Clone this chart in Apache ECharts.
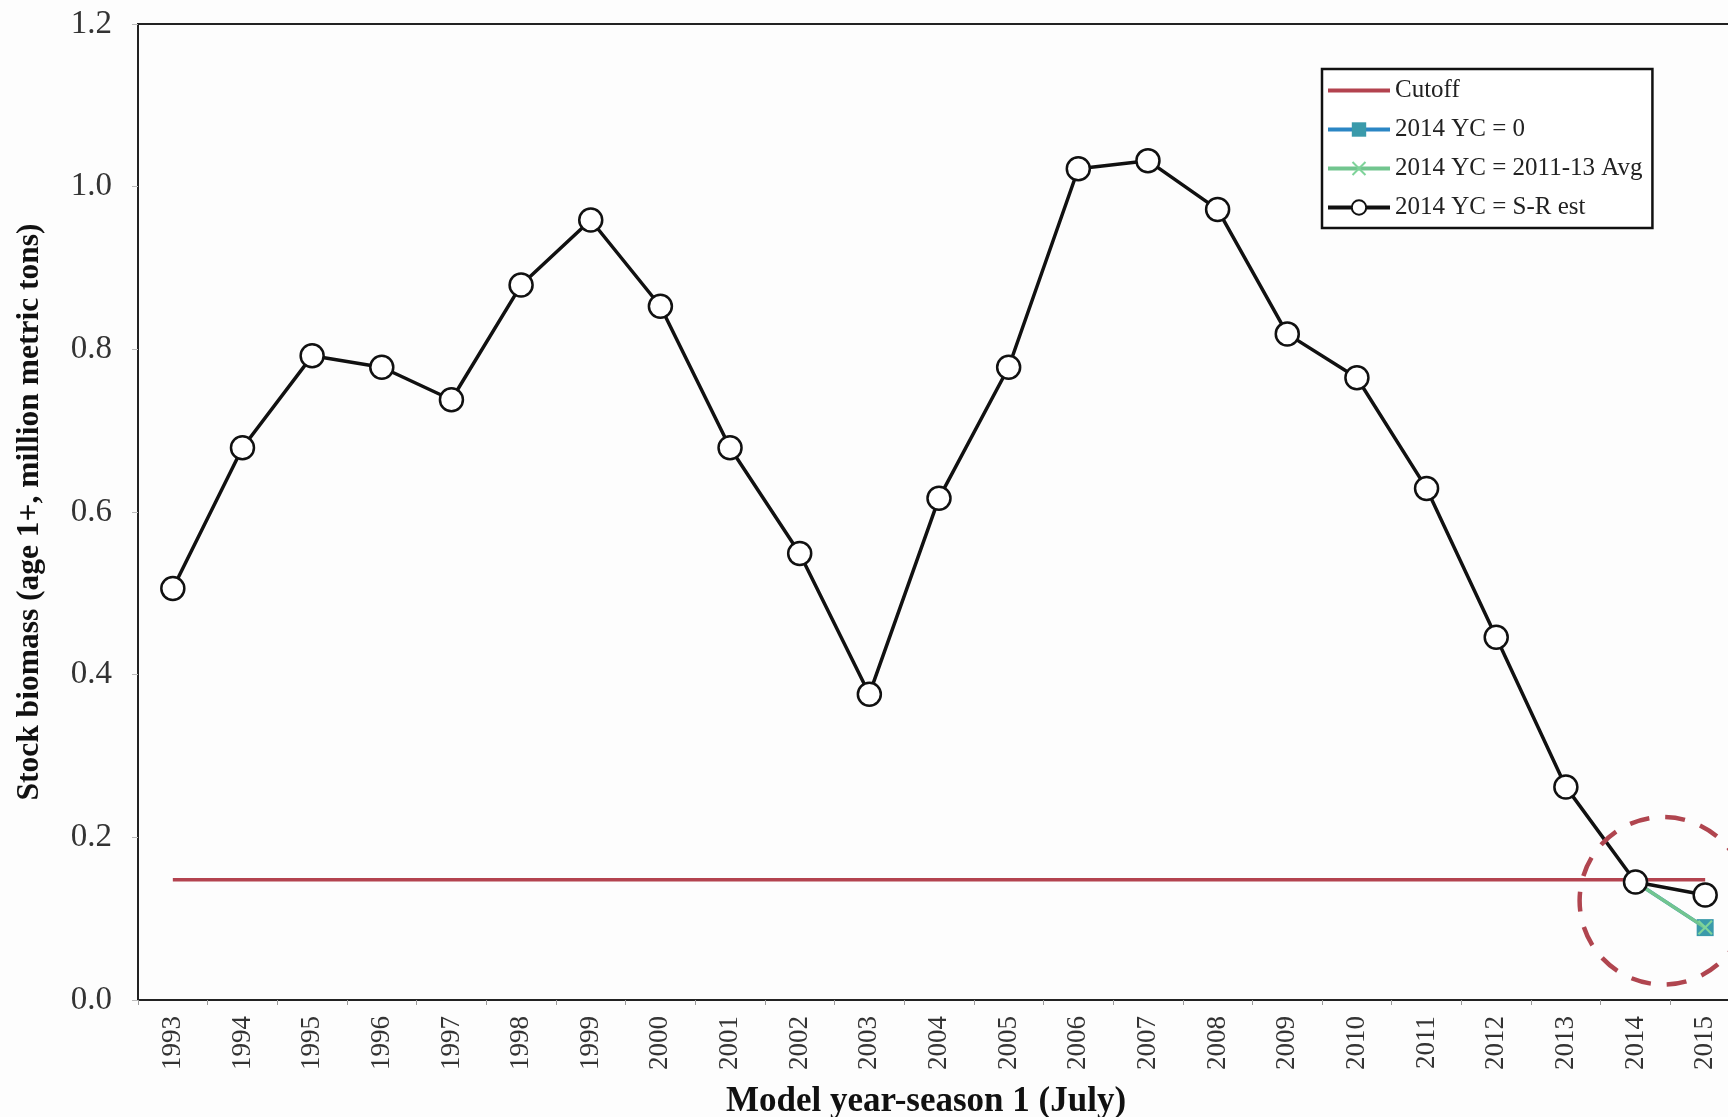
<!DOCTYPE html>
<html><head><meta charset="utf-8">
<script src="https://cdn.jsdelivr.net/npm/echarts@6/dist/echarts.min.js"></script>
<style>html,body{margin:0;padding:0;background:#fdfdfd;}#c{width:1728px;height:1117px;}</style>
</head><body><div id="c"></div>
<script>
const years = ['1993','1994','1995','1996','1997','1998','1999','2000','2001','2002','2003','2004','2005','2006','2007','2008','2009','2010','2011','2012','2013','2014','2015'];
const srEst = [0.506,0.679,0.792,0.778,0.738,0.879,0.959,0.853,0.679,0.549,0.376,0.617,0.778,1.022,1.032,0.972,0.819,0.765,0.629,0.446,0.262,0.145,0.129];
const cutoffValue = 0.148;
const cutoff = years.map(() => cutoffValue);
const yc0 = [null,null,null,null,null,null,null,null,null,null,null,null,null,null,null,null,null,null,null,null,null,0.145,0.089];
const ycAvg = [null,null,null,null,null,null,null,null,null,null,null,null,null,null,null,null,null,null,null,null,null,0.145,0.089];
const yTicks = [0,0.2,0.4,0.6,0.8,1.0,1.2];
// annotation circle (data units): between 2014 and 2015
const circleYears = ['2014','2015'];
const circleFrac = 0.4;
const circleCenterY = 0.122;
const circleRadiusY = 0.103;

const FONT = 'Liberation Serif, Times New Roman, serif';
const chart = echarts.init(document.getElementById('c'), null, {renderer:'canvas'});
const xShape = 'path://M0,1L1,0L5,4L9,0L10,1L6,5L10,9L9,10L5,6L1,10L0,9L4,5Z';
chart.setOption({
  backgroundColor:'#fdfdfd',
  animation:false,
  grid:{left:138, top:24, bottom:117, right:-12, outerBoundsMode:'none', containLabel:false,
    show:true, borderColor:'#222', borderWidth:2, backgroundColor:'transparent'},
  legend:{
    orient:'vertical', left:1322, top:69,
    backgroundColor:'#fff', borderColor:'#111', borderWidth:2.5, borderRadius:0,
    padding:[9,10,8,4], itemGap:14, itemWidth:62, itemHeight:18,
    lineStyle:{width:4},
    textStyle:{fontFamily:FONT, fontSize:25, color:'#222', width:291},
    data:[{name:'Cutoff', itemStyle:{opacity:0}},'2014 YC = 0','2014 YC = 2011-13 Avg','2014 YC = S-R est']
  },
  xAxis:{
    type:'category', data:years, boundaryGap:true,
    axisLine:{lineStyle:{color:'#222', width:2}},
    axisTick:{show:true, length:5, lineStyle:{color:'#999'}},
    axisLabel:{rotate:90, margin:16, fontFamily:FONT, fontSize:27, color:'#333'},
    name:'Model year-season 1 (July)', nameLocation:'middle', nameGap:84,
    nameTextStyle:{fontFamily:FONT, fontSize:35, fontWeight:'bold', color:'#111', padding:[0,26,0,0]}
  },
  yAxis:{
    type:'value', min:0, max:1.2, interval:0.2,
    axisLine:{show:true, lineStyle:{color:'#222', width:2}},
    axisTick:{show:true, length:6, lineStyle:{color:'#bbb'}},
    splitLine:{show:false},
    axisLabel:{margin:26, fontFamily:FONT, fontSize:33, color:'#333', formatter:v=>v.toFixed(1)},
    name:'Stock biomass (age 1+, million metric tons)', nameLocation:'middle', nameGap:92,
    nameTextStyle:{fontFamily:FONT, fontSize:31.5, fontWeight:'bold', color:'#111'}
  },
  series:[
    {name:'Cutoff', type:'line', data:cutoff, symbol:'none', lineStyle:{color:'#b3434f', width:3.5}, itemStyle:{color:'#b3434f'}, z:2},
    {name:'2014 YC = 0', type:'line', data:yc0, symbol:'rect', symbolSize:17,
      lineStyle:{color:'#2b86c4', width:3.5}, itemStyle:{color:'#3a9aaa'}, z:3},
    {name:'2014 YC = 2011-13 Avg', type:'line', data:ycAvg, symbol:xShape, symbolSize:15,
      lineStyle:{color:'#72c58f', width:3.5}, itemStyle:{color:'#7fd39a'}, z:4},
    {name:'2014 YC = S-R est', type:'line', data:srEst, symbol:'circle', symbolSize:23,
      lineStyle:{color:'#111', width:3.5},
      itemStyle:{color:'#fff', borderColor:'#111', borderWidth:2.5}, z:5}
  ]
});
const p0 = chart.convertToPixel({xAxisIndex:0, yAxisIndex:0}, [circleYears[0], circleCenterY]);
const p1 = chart.convertToPixel({xAxisIndex:0, yAxisIndex:0}, [circleYears[1], circleCenterY]);
const pr = chart.convertToPixel({xAxisIndex:0, yAxisIndex:0}, [circleYears[0], circleCenterY + circleRadiusY]);
const cx = p0[0] + (p1[0]-p0[0])*circleFrac;
const cy = p0[1];
const r = cy - pr[1];
chart.setOption({graphic:[{type:'circle', z:10, shape:{cx:cx, cy:cy, r:r}, style:{fill:'none', stroke:'#b0454f', lineWidth:4.5, lineDash:[20,16]}}]});
</script></body></html>
